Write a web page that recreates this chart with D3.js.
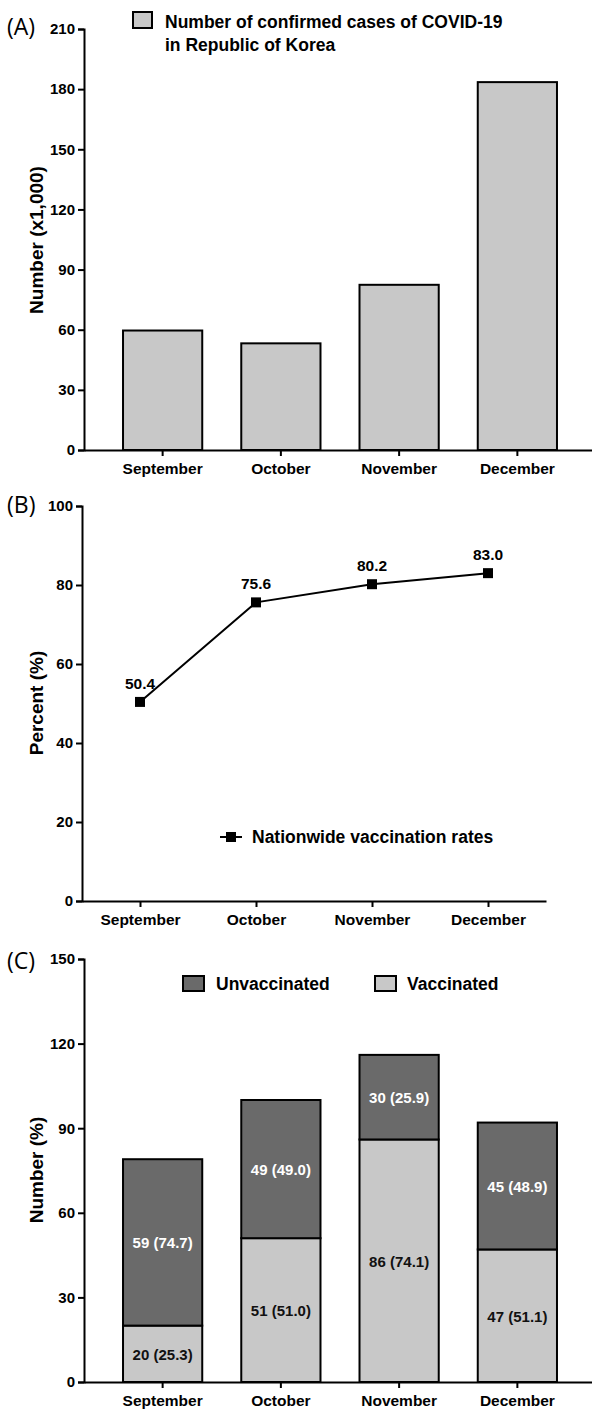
<!DOCTYPE html>
<html>
<head>
<meta charset="utf-8">
<script src="https://cdn.jsdelivr.net/npm/d3@7"></script>
<style>
  body { margin: 0; background: #fff; }
  svg text { font-family: "Liberation Sans", Arial, sans-serif; font-weight: bold; fill: #000; }
  .axis path, .axis line { stroke: #000; stroke-width: 2px; }
  .axis text { font-size: 15px; }
  .axis.x text { font-size: 15.5px; }
  .panel-tag { font-family: "Open Sans", sans-serif !important; font-weight: normal !important; font-size: 23px; }
</style>
</head>
<body>
<div id="chart"></div>
<script>
const months = ["September", "October", "November", "December"];

// (A) confirmed cases, x1,000
const casesTicks = [0, 30, 60, 90, 120, 150, 180, 210];
const cases = [59.6, 53.2, 82.4, 183.5];

// (B) nationwide vaccination rate, %
const rateTicks = [0, 20, 40, 60, 80, 100];
const rates = [50.4, 75.6, 80.2, 83.0];

// (C) cases by vaccination status
const statusTicks = [0, 30, 60, 90, 120, 150];
const vaccinated = [20, 51, 86, 47];
const vaccinatedPct = ["25.3", "51.0", "74.1", "51.1"];
const unvaccinated = [59, 49, 30, 45];
const unvaccinatedPct = ["74.7", "49.0", "25.9", "48.9"];

const lightGray = "#c8c8c8", darkGray = "#6a6a6a";

const svg = d3.select("#chart").append("svg")
    .attr("width", 592)
    .attr("height", 1409);

function yAxisTitle(text, x, y) {
  svg.append("text")
      .attr("transform", `translate(${x}, ${y}) rotate(-90)`)
      .attr("text-anchor", "middle")
      .style("font-size", "19px")
      .text(text);
}

function tag(text, x, y) {
  svg.append("text").attr("class", "panel-tag").attr("x", x).attr("y", y).text(text);
}

function drawAxes(x, y, ticks, x0, y0) {
  svg.append("g")
      .attr("class", "y axis")
      .attr("transform", `translate(${x0}, 0)`)
      .call(d3.axisLeft(y).tickValues(ticks).tickSize(6).tickPadding(3));
  svg.append("g")
      .attr("class", "x axis")
      .attr("transform", `translate(0, ${y0})`)
      .call(d3.axisBottom(x).tickSize(6).tickSizeOuter(0).tickPadding(7));
}

/* ---------- (A) ---------- */
let xA = d3.scaleBand().domain(months).range([84, 596]).padding(0.33);
let yA = d3.scaleLinear().domain([0, 210]).range([450, 29]);

svg.append("g").selectAll("rect")
    .data(cases).enter()
    .append("rect")
    .attr("x", (d, i) => xA(months[i]))
    .attr("y", d => yA(d))
    .attr("width", xA.bandwidth())
    .attr("height", d => yA(0) - yA(d))
    .attr("fill", lightGray)
    .attr("stroke", "#000")
    .attr("stroke-width", 2);

drawAxes(xA, yA, casesTicks, 84, 450);

svg.append("rect").attr("x", 133).attr("y", 12).attr("width", 19).attr("height", 16)
    .attr("fill", lightGray).attr("stroke", "#000").attr("stroke-width", 2);
svg.append("text").attr("x", 165).attr("y", 28).style("font-size", "17.5px")
    .text("Number of confirmed cases of COVID-19");
svg.append("text").attr("x", 165).attr("y", 51).style("font-size", "17.5px")
    .text("in Republic of Korea");

yAxisTitle("Number (x1,000)", 43, 240);
tag("(A)", 7, 35);

/* ---------- (B) ---------- */
let xB = d3.scalePoint().domain(months).range([82, 546]).padding(0.5);
let yB = d3.scaleLinear().domain([0, 100]).range([901, 506]);

drawAxes(xB, yB, rateTicks, 82, 901);

let line = d3.line()
    .x((d, i) => xB(months[i]))
    .y(d => yB(d));

svg.append("path")
    .attr("d", line(rates))
    .attr("fill", "none")
    .attr("stroke", "#000")
    .attr("stroke-width", 2);

svg.append("g").selectAll("rect")
    .data(rates).enter()
    .append("rect")
    .attr("x", (d, i) => xB(months[i]) - 5)
    .attr("y", d => yB(d) - 5)
    .attr("width", 10)
    .attr("height", 10)
    .attr("fill", "#000");

svg.append("g").selectAll("text")
    .data(rates).enter()
    .append("text")
    .attr("x", (d, i) => xB(months[i]))
    .attr("y", d => yB(d) - 13)
    .attr("text-anchor", "middle")
    .style("font-size", "15.5px")
    .text(d => d.toFixed(1));

svg.append("line").attr("x1", 220).attr("x2", 242).attr("y1", 837).attr("y2", 837)
    .attr("stroke", "#000").attr("stroke-width", 2);
svg.append("rect").attr("x", 226).attr("y", 832).attr("width", 10).attr("height", 10).attr("fill", "#000");
svg.append("text").attr("x", 252).attr("y", 843).style("font-size", "17.5px")
    .text("Nationwide vaccination rates");

yAxisTitle("Percent (%)", 43, 703);
tag("(B)", 7, 513);

/* ---------- (C) ---------- */
let xC = d3.scaleBand().domain(months).range([84, 596]).padding(0.33);
let yC = d3.scaleLinear().domain([0, 150]).range([1382, 959]);

let stackData = months.map((m, i) => ({ month: m, vaccinated: vaccinated[i], unvaccinated: unvaccinated[i] }));
let stacked = d3.stack().keys(["vaccinated", "unvaccinated"])(stackData);
let fills = { vaccinated: lightGray, unvaccinated: darkGray };
let pcts = { vaccinated: vaccinatedPct, unvaccinated: unvaccinatedPct };

let layers = svg.append("g").selectAll("g")
    .data(stacked).enter()
    .append("g")
    .attr("fill", d => fills[d.key]);

layers.selectAll("rect")
    .data(d => d).enter()
    .append("rect")
    .attr("x", d => xC(d.data.month))
    .attr("y", d => yC(d[1]))
    .attr("width", xC.bandwidth())
    .attr("height", d => yC(d[0]) - yC(d[1]))
    .attr("stroke", "#000")
    .attr("stroke-width", 2);

stacked.forEach(layer => {
  svg.append("g").selectAll("text")
      .data(layer).enter()
      .append("text")
      .attr("x", d => xC(d.data.month) + xC.bandwidth() / 2)
      .attr("y", d => (yC(d[0]) + yC(d[1])) / 2 + 6)
      .attr("text-anchor", "middle")
      .style("font-size", "15px")
      .style("fill", layer.key === "unvaccinated" ? "#fff" : "#111")
      .text((d, i) => `${d.data[layer.key]} (${pcts[layer.key][i]})`);
});

drawAxes(xC, yC, statusTicks, 84, 1382);

svg.append("rect").attr("x", 183).attr("y", 976).attr("width", 21).attr("height", 15)
    .attr("fill", darkGray).attr("stroke", "#000").attr("stroke-width", 2);
svg.append("text").attr("x", 216).attr("y", 990).style("font-size", "17.5px").text("Unvaccinated");
svg.append("rect").attr("x", 375).attr("y", 976).attr("width", 21).attr("height", 15)
    .attr("fill", lightGray).attr("stroke", "#000").attr("stroke-width", 2);
svg.append("text").attr("x", 407).attr("y", 990).style("font-size", "17.5px").text("Vaccinated");

yAxisTitle("Number (%)", 43, 1170);
tag("(C)", 7, 969);
</script>
</body>
</html>
